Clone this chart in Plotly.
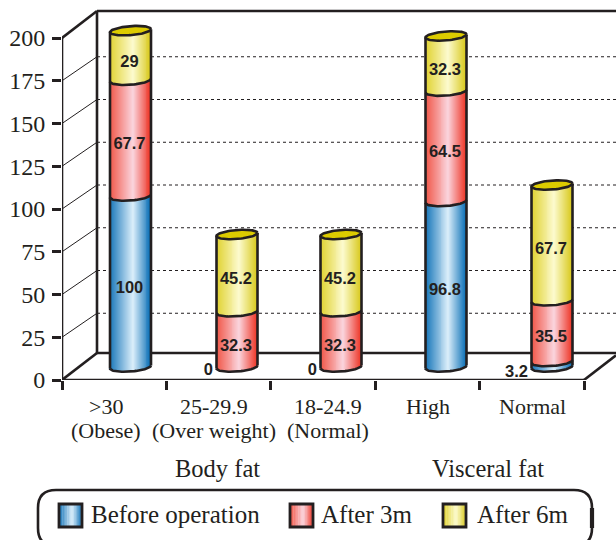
import numpy as np
import plotly.graph_objects as go

# ---- data ----
categories_line1 = [">30", "25-29.9", "18-24.9", "High", "Normal"]
categories_line2 = ["(Obese)", "(Over weight)", "(Normal)", "", ""]
groups = ["Body fat", "Visceral fat"]
series_names = ["Before operation", "After 3m", "After 6m"]
before_operation = [100, 0, 0, 96.8, 3.2]
after_3m = [67.7, 32.3, 32.3, 64.5, 35.5]
after_6m = [29, 45.2, 45.2, 32.3, 67.7]
y_ticks = [0, 25, 50, 75, 100, 125, 150, 175, 200]

INK = "#231f20"
SERIF = "Liberation Serif"
SANS = "Liberation Sans"
# gradient stops: left edge, highlight, right edge
GRADS = [("#1273b8", "#dceffb", "#0a6fb6"),
         ("#f15445", "#fbd5de", "#ee3526"),
         ("#e0d22e", "#fdfbcf", "#d9c91c")]
TOP_CAP = "#dccb00"

# ---- pixel geometry ----
W, H = 616, 540
L, B0 = 62, 380          # pixel position of data origin
PX_X = 104.4             # px per category
PX_Y = 1.71              # px per value unit
XMAX = (W - L) / PX_X
YMAX = B0 / PX_Y
DX_WALL = 35 / PX_X
DY_WALL = 27 / PX_Y
DY_GRID = 24 / PX_Y
DY_BAR = 13 / PX_Y
RX = 20.5 / PX_X
RY = 4.5 / PX_Y
TILT = 1.5 / PX_Y
bar_x = [(p - L) / PX_X for p in (130.5, 237, 341, 446, 552)]


def hex2rgb(h):
    return np.array([int(h[i:i + 2], 16) for i in (1, 3, 5)], float)


def grad(stops, p):
    a, b, c = map(hex2rgb, stops)
    col = a + (b - a) * p / 0.57 if p < 0.57 else b + (c - b) * (p - 0.57) / 0.43
    return "rgb(%d,%d,%d)" % tuple(col)


def px(x):
    return (x - L) / (W - L)


def py(y):
    return (B0 - y) / B0


fig = go.Figure()
stacks = [before_operation, after_3m, after_6m]

# cylinder bodies: narrow vertical strips following the elliptic base
N = 42
for s, vals in enumerate(stacks):
    cum = [sum(stacks[k][i] for k in range(s)) for i in range(5)]
    for j in range(N):
        u = -1 + 2 * (j + 0.5) / N
        offs = -RY * np.sqrt(1 - u * u) + TILT * u
        fig.add_trace(go.Bar(
            x=[c + u * RX for c in bar_x], y=vals,
            base=[c + DY_BAR + offs for c in cum],
            width=2 * RX / N * 1.25,
            marker=dict(color=grad(GRADS[s], (u + 1) / 2), line=dict(width=0)),
            name=series_names[s], showlegend=False, hoverinfo="skip"))

# outlines
t = np.linspace(0, np.pi, 40)
ox, oy = [], []
totals = [0.0] * 5
for i in range(5):
    bottom_done = False
    cum = 0.0
    for s, vals in enumerate(stacks):
        v = vals[i]
        if v == 0:
            continue
        if not bottom_done:
            arc_u = np.cos(t)
            ox += list(bar_x[i] + RX * arc_u) + [None]
            oy += list(cum + DY_BAR - RY * np.sin(t) + TILT * arc_u) + [None]
            bottom_done = True
        cum += v
        arc_u = np.cos(t)
        if s < 2:
            ox += list(bar_x[i] + RX * arc_u) + [None]
            oy += list(cum + DY_BAR - RY * np.sin(t) + TILT * arc_u) + [None]
    totals[i] = cum
    ox += [bar_x[i] - RX, bar_x[i] - RX, None, bar_x[i] + RX, bar_x[i] + RX, None]
    oy += [DY_BAR - TILT, cum + DY_BAR - TILT, None, DY_BAR + TILT, cum + DY_BAR + TILT, None]
fig.add_trace(go.Scatter(x=ox, y=oy, mode="lines", line=dict(color=INK, width=2.6),
                         showlegend=False, hoverinfo="skip"))

# top caps
tt = np.linspace(0, 2 * np.pi, 80)
for i in range(5):
    uu = np.cos(tt)
    fig.add_trace(go.Scatter(
        x=bar_x[i] + RX * uu, y=totals[i] + DY_BAR + RY * np.sin(tt) + TILT * uu,
        mode="lines", fill="toself", fillcolor=TOP_CAP,
        line=dict(color=INK, width=2.6), showlegend=False, hoverinfo="skip"))

# value labels
lx, ly, lt, lpos = [], [], [], []
for i in range(5):
    cum = 0.0
    for s, vals in enumerate(stacks):
        v = vals[i]
        if s < 2 or v > 0:
            if v < 5 and s == 0:
                lx.append(bar_x[i] - 24 / PX_X)
                ly.append(DY_BAR - (2.0 if v == 0 else 5.5 / PX_Y) )
                lt.append(str(v))
                lpos.append("middle left")
            elif v > 0:
                lx.append(bar_x[i] - 1 / PX_X)
                ly.append(cum + v / 2 + DY_BAR - 7 / PX_Y)
                lt.append(str(v))
                lpos.append("middle center")
        cum += v
fig.add_trace(go.Scatter(x=lx, y=ly, text=lt, mode="text", textposition=lpos,
                         textfont=dict(family=SANS, size=16.5, color=INK, weight="bold"),
                         showlegend=False, hoverinfo="skip", cliponaxis=False))

# frame (behind the cylinders)
shapes = []


def seg(x0, y0, x1, y1, width, dash="solid", layer="below"):
    shapes.append(dict(type="line", xref="x", yref="y", x0=x0, y0=y0, x1=x1, y1=y1,
                       layer=layer, line=dict(color=INK, width=width, dash=dash)))


for v in y_ticks[1:-1]:
    seg(0, v, DX_WALL, v + DY_GRID, 1)
    seg(DX_WALL, v + DY_GRID, XMAX, v + DY_GRID, 1, dash="3px,3px")
seg(0, 0, 0, 200, 2.6)
seg(DX_WALL, DY_WALL, DX_WALL, 200 + DY_WALL, 2.6)
seg(0, 200, DX_WALL, 200 + DY_WALL, 2.6)
seg(0, 0, DX_WALL, DY_WALL, 2.6)
seg(DX_WALL, 200 + DY_WALL, XMAX, 200 + DY_WALL, 2.6)
seg(DX_WALL, DY_WALL, XMAX, DY_WALL, 2.6)
seg(0, 0, 5, 0, 2.6)
seg(5, 0, XMAX, DY_WALL * (XMAX - 5) / DX_WALL, 2.6)

# legend box (its lower edge runs off the page, as in the original)
bx0, bx1, by0, by1, r = px(38), px(592), py(490), py(546), 18
fx = r / (W - L)
fy = r / B0
shapes.append(dict(
    type="path", xref="paper", yref="paper", layer="above",
    path=(f"M {bx0 + fx} {by0} L {bx1 - fx} {by0} Q {bx1} {by0} {bx1} {by0 - fy} "
          f"L {bx1} {by1 + fy} Q {bx1} {by1} {bx1 - fx} {by1} L {bx0 + fx} {by1} "
          f"Q {bx0} {by1} {bx0} {by1 + fy} L {bx0} {by0 - fy} Q {bx0} {by0} {bx0 + fx} {by0} Z"),
    line=dict(color=INK, width=2.6)))
shapes.append(dict(type="line", xref="paper", yref="paper", layer="above",
                   x0=bx1, x1=bx1, y0=by0 - fy, y1=by1 + fy,
                   line=dict(color=INK, width=4.2)))

annotations = []


def txt(xp, yp, text, size, anchor="center", family=SERIF):
    annotations.append(dict(xref="paper", yref="paper", x=px(xp), y=py(yp), text=text,
                            showarrow=False, xanchor=anchor, yanchor="middle",
                            font=dict(family=family, size=size, color=INK)))


label_px = [106, 214, 328, 428, 532]
for xp, a, b in zip(label_px, categories_line1, categories_line2):
    txt(xp, 406, a, 22)
    if b:
        txt(xp, 430, b, 22)
txt(217, 468, groups[0], 24.5)
txt(488, 468, groups[1], 24.5)

swatch_px = [59, 290, 443]
text_px = [89, 319, 475]
for s in range(3):
    x0 = swatch_px[s]
    for j in range(14):
        shapes.append(dict(type="rect", xref="paper", yref="paper", layer="above",
                           x0=px(x0 + j * 23 / 14), x1=px(x0 + (j + 1.2) * 23 / 14),
                           y0=py(504), y1=py(527), line=dict(width=0),
                           fillcolor=grad(GRADS[s], (j + 0.5) / 14)))
    shapes.append(dict(type="rect", xref="paper", yref="paper", layer="above",
                       x0=px(x0), x1=px(x0 + 23), y0=py(504), y1=py(527),
                       line=dict(color=INK, width=2.8)))
    txt(text_px[s], 514, series_names[s], 25, anchor="left")

fig.update_layout(
    width=W, height=H, margin=dict(l=L, r=0, t=0, b=H - B0, pad=0, autoexpand=False),
    paper_bgcolor="white", plot_bgcolor="white", barmode="overlay", showlegend=False,
    shapes=shapes, annotations=annotations, bargap=0,
    xaxis=dict(range=[0, XMAX], showgrid=False, zeroline=False, showline=False,
               tickmode="array", tickvals=[0, 1, 2, 3, 4, 5], showticklabels=False,
               ticks="outside", ticklen=9, tickwidth=2.6, tickcolor=INK),
    yaxis=dict(range=[0, YMAX], showgrid=False, zeroline=False, showline=False,
               tickmode="array", tickvals=y_ticks, ticks="outside", ticklen=9,
               tickwidth=2.6, tickcolor=INK, ticklabelstandoff=2,
               tickfont=dict(family=SERIF, size=24, color=INK)),
)
fig.write_html("out.html", config=dict(displayModeBar=False),
               post_script="document.body.style.margin='0';document.documentElement.style.overflow='hidden';")
